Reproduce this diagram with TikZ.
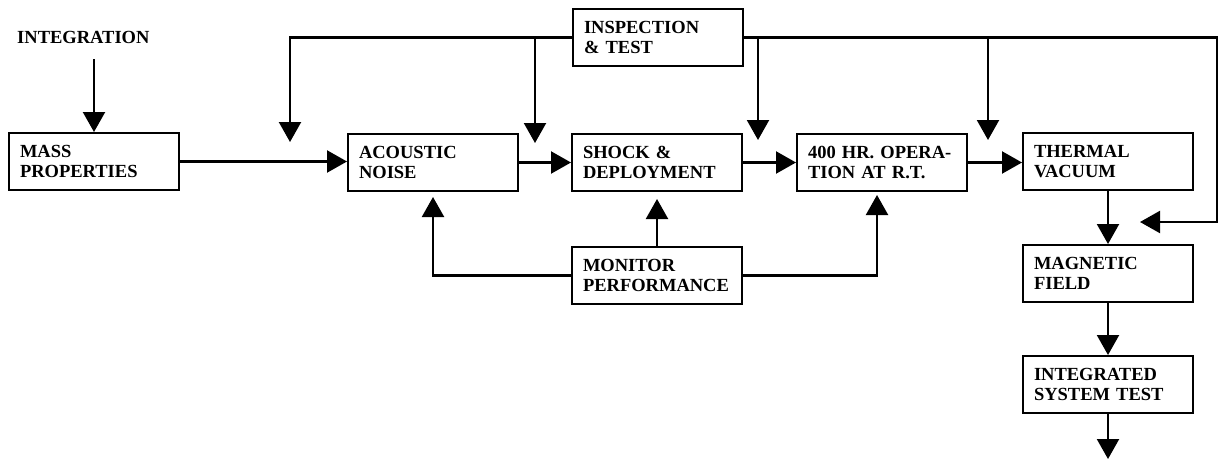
\documentclass[tikz,border=0pt]{standalone}
\usepackage{fontspec}
\setmainfont{Liberation Serif}
\usetikzlibrary{arrows.meta}
\begin{document}
\begin{tikzpicture}[x=1pt,y=-1pt,
  lbl/.style={font=\fontsize{18.5}{20}\selectfont\bfseries},
  box/.style={lbl,draw,line width=2pt,minimum height=57,text width=148,
    align=left,inner xsep=11,inner ysep=0,anchor=north west},
  arr/.style={line width=2.2pt,-{Triangle[length=20pt,width=22pt]}}]
\useasboundingbox (0,0) rectangle (1221,461);
\node[lbl,inner sep=0,anchor=base west] (integ) at (17,43) {INTEGRATION};
\node[box] (mass) at (8,132) {MASS\\PROPERTIES};
\node[box] (acoustic) at (347,133) {ACOUSTIC\\NOISE};
\node[box] (shock) at (571,133) {SHOCK \&\\DEPLOYMENT};
\node[box] (hr) at (796,133) {400 HR. OPERA-\\TION AT R.T.};
\node[box] (thermal) at (1022,132) {THERMAL\\VACUUM};
\node[box] (magnetic) at (1022,244) {MAGNETIC\\FIELD};
\node[box] (ist) at (1022,355) {INTEGRATED\\SYSTEM TEST};
\node[box] (insp) at (572,8) {INSPECTION\\\& TEST};
\node[box] (monitor) at (571,246) {MONITOR\\PERFORMANCE};
\coordinate (f1) at (290,142);
\coordinate (f2) at (535,143);
\coordinate (f3) at (758,140);
\coordinate (f4) at (988,140);
\coordinate (f5) at (1140,222);
\coordinate (m1) at (433,197);
\coordinate (m2) at (877,195);
\coordinate (endpt) at (1107,459);
% main flow
\draw[arr] ([yshift=-16pt]integ.south -| mass.north) -- (mass.north);
\draw[arr] (mass.east) -- (mass.east -| acoustic.west);
\draw[arr] (acoustic.east) -- (acoustic.east -| shock.west);
\draw[arr] (shock.east) -- (shock.east -| hr.west);
\draw[arr] (hr.east) -- (hr.east -| thermal.west);
\draw[arr] (thermal.south) -- (magnetic.north);
\draw[arr] (magnetic.south) -- (ist.north);
\draw[arr] (ist.south) -- (ist.south |- endpt);
% inspection feedback
\draw[arr] (insp.west) -| (f1);
\draw[arr] (insp.west -| f2) -- (f2);
\draw[arr] (insp.east -| f3) -- (f3);
\draw[arr] (insp.east -| f4) -- (f4);
\draw[arr] (insp.east) -| ([xshift=77pt]f5) -- (f5);
% monitor
\draw[arr] (monitor.north) -- ([yshift=-7pt]shock.south);
\draw[arr] (monitor.west) -| (m1);
\draw[arr] (monitor.east) -| (m2);
\end{tikzpicture}
\end{document}
